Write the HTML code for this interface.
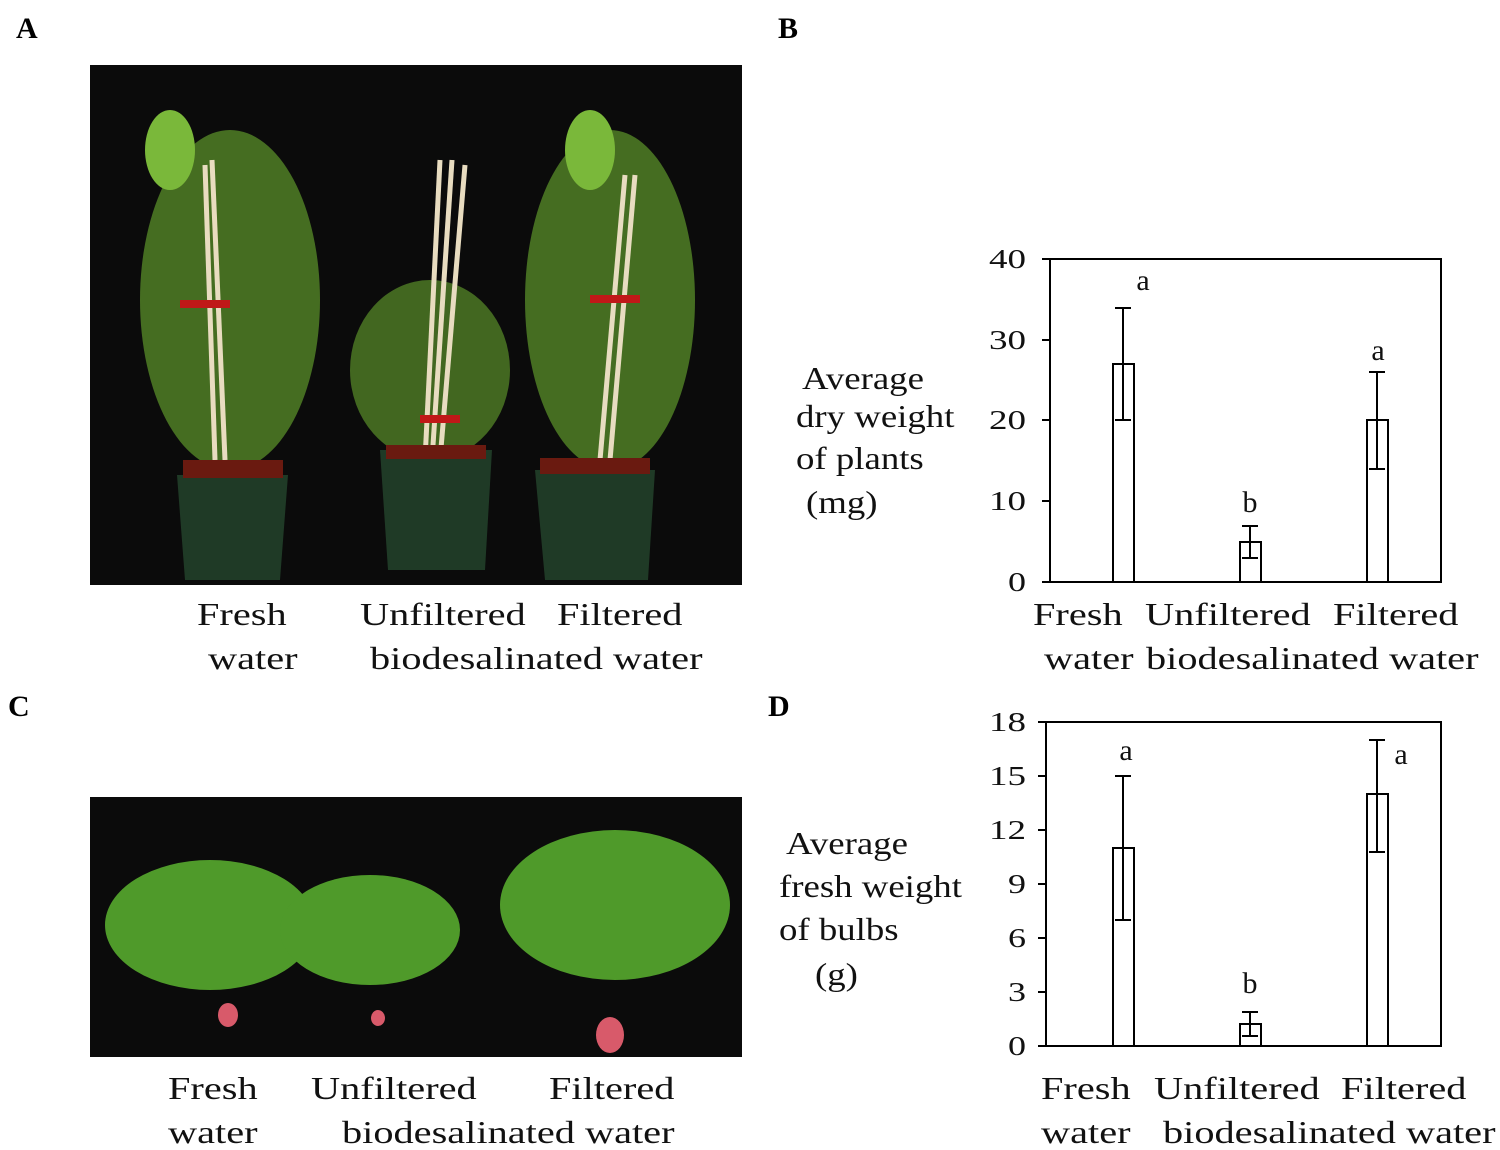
<!DOCTYPE html>
<html><head><meta charset="utf-8"><style>
body{margin:0;background:#fff;width:1500px;height:1148px;overflow:hidden;position:relative;font-family:"Liberation Serif",serif;}
.t{position:absolute;font-size:32px;color:#111;white-space:nowrap;line-height:1;transform:scaleX(1.26);transform-origin:0 0}
.y{transform:scaleX(1.15)}
.L{position:absolute;font-weight:bold;font-size:30px}
</style></head><body>
<div class="L" style="left:16px;top:12px">A</div>
<div class="L" style="left:778px;top:12px">B</div>
<div class="L" style="left:8px;top:690px">C</div>
<div class="L" style="left:768px;top:690px">D</div>

<svg style="position:absolute;left:0;top:0" width="1500" height="1148">
<rect x="90" y="65" width="652" height="520" fill="#0b0b0b"/>
<g fill="#5a8f2a">
<ellipse cx="230" cy="300" rx="90" ry="170" opacity=".75"/>
<ellipse cx="430" cy="370" rx="80" ry="90" opacity=".7"/>
<ellipse cx="610" cy="300" rx="85" ry="170" opacity=".75"/>
<ellipse cx="170" cy="150" rx="25" ry="40" fill="#7ab83a"/>
<ellipse cx="590" cy="150" rx="25" ry="40" fill="#7ab83a"/>
</g>
<g stroke="#e8dcc0" stroke-width="5">
<line x1="205" y1="165" x2="215" y2="460"/><line x1="212" y1="160" x2="225" y2="460"/>
<line x1="440" y1="160" x2="425" y2="460"/><line x1="452" y1="160" x2="432" y2="460"/><line x1="465" y1="165" x2="440" y2="460"/>
<line x1="625" y1="175" x2="600" y2="460"/><line x1="635" y1="175" x2="610" y2="460"/>
</g>
<g fill="#c01818"><rect x="180" y="300" width="50" height="8"/><rect x="590" y="295" width="50" height="8"/><rect x="420" y="415" width="40" height="8"/></g>
<g fill="#1f3a26">
<polygon points="177,475 288,475 280,580 185,580"/>
<polygon points="380,450 492,450 485,570 388,570"/>
<polygon points="535,470 655,470 648,580 545,580"/>
</g>
<g fill="#6a1a10"><rect x="183" y="460" width="100" height="18"/><rect x="386" y="445" width="100" height="14"/><rect x="540" y="458" width="110" height="16"/></g>
<rect x="90" y="797" width="652" height="260" fill="#0b0b0b"/>
<g fill="#4f9a2a">
<ellipse cx="210" cy="925" rx="105" ry="65"/>
<ellipse cx="370" cy="930" rx="90" ry="55"/>
<ellipse cx="615" cy="905" rx="115" ry="75"/>
</g>
<g fill="#d85a6a"><ellipse cx="228" cy="1015" rx="10" ry="12"/><ellipse cx="378" cy="1018" rx="7" ry="8"/><ellipse cx="610" cy="1035" rx="14" ry="18"/></g>

<g stroke="#000" stroke-width="2" fill="none">
<rect x="1050" y="259" width="391" height="323"/>
<line x1="1042" y1="259" x2="1050" y2="259"/><line x1="1042" y1="340" x2="1050" y2="340"/><line x1="1042" y1="420" x2="1050" y2="420"/><line x1="1042" y1="501" x2="1050" y2="501"/><line x1="1042" y1="582" x2="1050" y2="582"/>
<rect x="1113" y="364" width="21" height="218" fill="#fff"/>
<rect x="1240" y="542" width="21" height="40" fill="#fff"/>
<rect x="1367" y="420" width="21" height="162" fill="#fff"/>
<path d="M1123 308V420M1115 308H1131M1115 420H1131"/>
<path d="M1250 526V558M1242 526H1258M1242 558H1258"/>
<path d="M1377 372V469M1369 372H1385M1369 469H1385"/>
</g>
<g font-family="Liberation Serif,serif" font-size="27" text-anchor="end" fill="#111" lengthAdjust="spacingAndGlyphs">
<text x="1026" y="268" textLength="37" lengthAdjust="spacingAndGlyphs">40</text><text x="1026" y="349" textLength="37" lengthAdjust="spacingAndGlyphs">30</text><text x="1026" y="429" textLength="37" lengthAdjust="spacingAndGlyphs">20</text><text x="1026" y="510" textLength="37" lengthAdjust="spacingAndGlyphs">10</text><text x="1026" y="591" textLength="18" lengthAdjust="spacingAndGlyphs">0</text>
</g>
<g font-family="Liberation Serif,serif" font-size="30" text-anchor="middle" fill="#111">
<text x="1143" y="290">a</text><text x="1250" y="512">b</text><text x="1378" y="360">a</text>
</g>
<g stroke="#000" stroke-width="2" fill="none">
<rect x="1046" y="722" width="395" height="324"/>
<line x1="1038" y1="722" x2="1046" y2="722"/><line x1="1038" y1="776" x2="1046" y2="776"/><line x1="1038" y1="830" x2="1046" y2="830"/><line x1="1038" y1="884" x2="1046" y2="884"/><line x1="1038" y1="938" x2="1046" y2="938"/><line x1="1038" y1="992" x2="1046" y2="992"/><line x1="1038" y1="1046" x2="1046" y2="1046"/>
<rect x="1113" y="848" width="21" height="198" fill="#fff"/>
<rect x="1240" y="1024" width="21" height="22" fill="#fff"/>
<rect x="1367" y="794" width="21" height="252" fill="#fff"/>
<path d="M1123 776V920M1115 776H1131M1115 920H1131"/>
<path d="M1250 1012V1036M1242 1012H1258M1242 1036H1258"/>
<path d="M1377 740V852M1369 740H1385M1369 852H1385"/>
</g>
<g font-family="Liberation Serif,serif" font-size="27" text-anchor="end" fill="#111">
<text x="1026" y="731" textLength="37" lengthAdjust="spacingAndGlyphs">18</text><text x="1026" y="785" textLength="37" lengthAdjust="spacingAndGlyphs">15</text><text x="1026" y="839" textLength="37" lengthAdjust="spacingAndGlyphs">12</text><text x="1026" y="893" textLength="18" lengthAdjust="spacingAndGlyphs">9</text><text x="1026" y="947" textLength="18" lengthAdjust="spacingAndGlyphs">6</text><text x="1026" y="1001" textLength="18" lengthAdjust="spacingAndGlyphs">3</text><text x="1026" y="1055" textLength="18" lengthAdjust="spacingAndGlyphs">0</text>
</g>
<g font-family="Liberation Serif,serif" font-size="30" text-anchor="middle" fill="#111">
<text x="1126" y="760">a</text><text x="1250" y="993">b</text><text x="1401" y="764">a</text>
</g>
</svg>

<div class="t" style="left:197px;top:598px">Fresh</div>
<div class="t" style="left:208px;top:642px">water</div>
<div class="t" style="left:360px;top:598px">Unfiltered</div>
<div class="t" style="left:557px;top:598px">Filtered</div>
<div class="t" style="left:370px;top:642px">biodesalinated water</div>

<div class="t" style="left:168px;top:1072px">Fresh</div>
<div class="t" style="left:168px;top:1116px">water</div>
<div class="t" style="left:311px;top:1072px">Unfiltered</div>
<div class="t" style="left:549px;top:1072px">Filtered</div>
<div class="t" style="left:342px;top:1116px">biodesalinated water</div>

<div class="t" style="left:1033px;top:598px">Fresh</div>
<div class="t" style="left:1044px;top:642px">water</div>
<div class="t" style="left:1145px;top:598px">Unfiltered</div>
<div class="t" style="left:1333px;top:598px">Filtered</div>
<div class="t" style="left:1146px;top:642px">biodesalinated water</div>

<div class="t" style="left:1041px;top:1072px">Fresh</div>
<div class="t" style="left:1041px;top:1116px">water</div>
<div class="t" style="left:1154px;top:1072px">Unfiltered</div>
<div class="t" style="left:1341px;top:1072px">Filtered</div>
<div class="t" style="left:1163px;top:1116px">biodesalinated water</div>

<div class="t y" style="left:802px;top:362px">Average</div>
<div class="t y" style="left:796px;top:400px">dry weight</div>
<div class="t y" style="left:796px;top:442px">of plants</div>
<div class="t y" style="left:806px;top:486px">(mg)</div>

<div class="t y" style="left:786px;top:827px">Average</div>
<div class="t y" style="left:779px;top:870px">fresh weight</div>
<div class="t y" style="left:779px;top:913px">of bulbs</div>
<div class="t y" style="left:815px;top:958px">(g)</div>
</body></html>
